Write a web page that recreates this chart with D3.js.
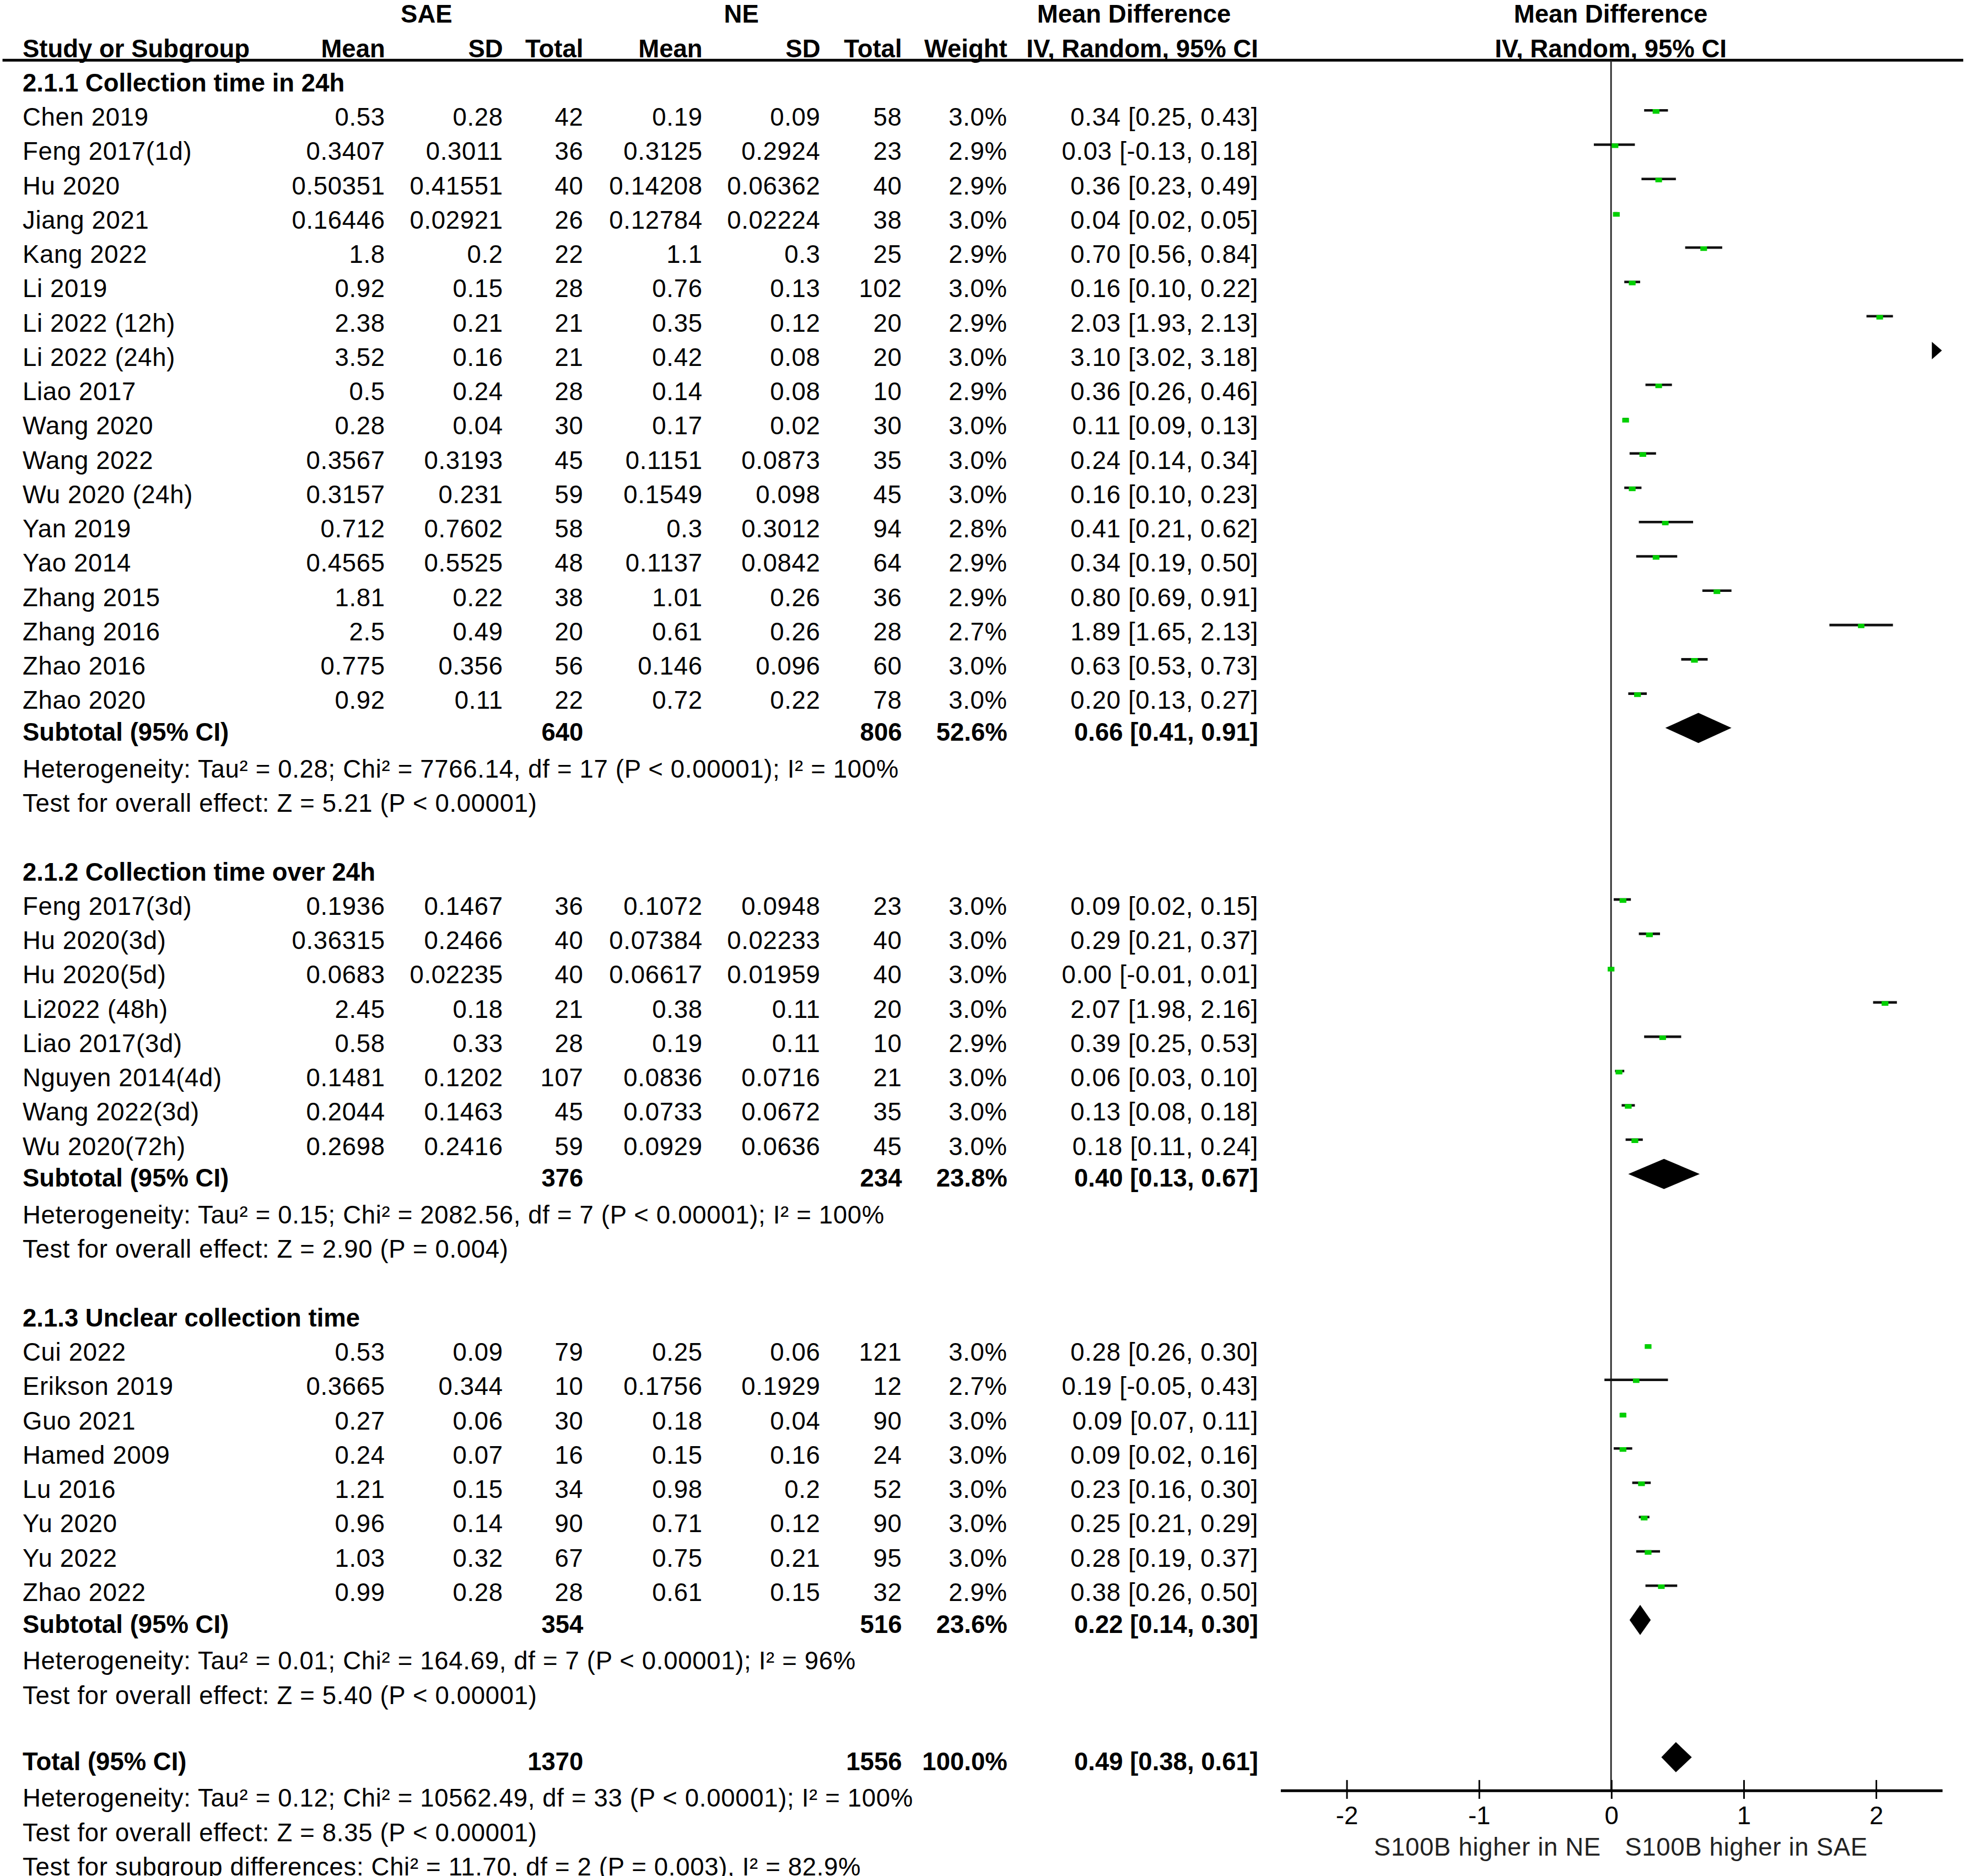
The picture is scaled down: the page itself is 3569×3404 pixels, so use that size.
<!DOCTYPE html>
<html lang="en">
<head>
<meta charset="utf-8">
<title>S100B forest plot</title>
<script src="https://cdn.jsdelivr.net/npm/d3@7/dist/d3.min.js"></script>
<style>
  body { margin: 0; background: #fff; }
  svg { display: block; font-family: "Liberation Sans", Arial, sans-serif; }
  .b { font-weight: bold; }
  .r { letter-spacing: 0.3px; }
</style>
</head>
<body>
<script>
// study rows, in drawing order
var studies = ["Chen 2019", "Feng 2017(1d)", "Hu 2020", "Jiang 2021", "Kang 2022", "Li 2019",
  "Li 2022 (12h)", "Li 2022 (24h)", "Liao 2017", "Wang 2020", "Wang 2022", "Wu 2020 (24h)",
  "Yan 2019", "Yao 2014", "Zhang 2015", "Zhang 2016", "Zhao 2016", "Zhao 2020",
  "Feng 2017(3d)", "Hu 2020(3d)", "Hu 2020(5d)", "Li2022 (48h)", "Liao 2017(3d)",
  "Nguyen 2014(4d)", "Wang 2022(3d)", "Wu 2020(72h)",
  "Cui 2022", "Erikson 2019", "Guo 2021", "Hamed 2009", "Lu 2016", "Yu 2020", "Yu 2022", "Zhao 2022"];
var group = [0,0,0,0,0,0,0,0,0,0,0,0,0,0,0,0,0,0, 1,1,1,1,1,1,1,1, 2,2,2,2,2,2,2,2];

var saeMean = ["0.53","0.3407","0.50351","0.16446","1.8","0.92","2.38","3.52","0.5","0.28","0.3567","0.3157",
  "0.712","0.4565","1.81","2.5","0.775","0.92",
  "0.1936","0.36315","0.0683","2.45","0.58","0.1481","0.2044","0.2698",
  "0.53","0.3665","0.27","0.24","1.21","0.96","1.03","0.99"];
var saeSD = ["0.28","0.3011","0.41551","0.02921","0.2","0.15","0.21","0.16","0.24","0.04","0.3193","0.231",
  "0.7602","0.5525","0.22","0.49","0.356","0.11",
  "0.1467","0.2466","0.02235","0.18","0.33","0.1202","0.1463","0.2416",
  "0.09","0.344","0.06","0.07","0.15","0.14","0.32","0.28"];
var saeN = [42,36,40,26,22,28,21,21,28,30,45,59,58,48,38,20,56,22, 36,40,40,21,28,107,45,59, 79,10,30,16,34,90,67,28];
var neMean = ["0.19","0.3125","0.14208","0.12784","1.1","0.76","0.35","0.42","0.14","0.17","0.1151","0.1549",
  "0.3","0.1137","1.01","0.61","0.146","0.72",
  "0.1072","0.07384","0.06617","0.38","0.19","0.0836","0.0733","0.0929",
  "0.25","0.1756","0.18","0.15","0.98","0.71","0.75","0.61"];
var neSD = ["0.09","0.2924","0.06362","0.02224","0.3","0.13","0.12","0.08","0.08","0.02","0.0873","0.098",
  "0.3012","0.0842","0.26","0.26","0.096","0.22",
  "0.0948","0.02233","0.01959","0.11","0.11","0.0716","0.0672","0.0636",
  "0.06","0.1929","0.04","0.16","0.2","0.12","0.21","0.15"];
var neN = [58,23,40,38,25,102,20,20,10,30,35,45,94,64,36,28,60,78, 23,40,40,20,10,21,35,45, 121,12,90,24,52,90,95,32];
var weight = [3.0,2.9,2.9,3.0,2.9,3.0,2.9,3.0,2.9,3.0,3.0,3.0,2.8,2.9,2.9,2.7,3.0,3.0,
  3.0,3.0,3.0,3.0,2.9,3.0,3.0,3.0, 3.0,2.7,3.0,3.0,3.0,3.0,3.0,2.9];
var md = [0.34,0.03,0.36,0.04,0.70,0.16,2.03,3.10,0.36,0.11,0.24,0.16,0.41,0.34,0.80,1.89,0.63,0.20,
  0.09,0.29,0.00,2.07,0.39,0.06,0.13,0.18, 0.28,0.19,0.09,0.09,0.23,0.25,0.28,0.38];
var ciLo = [0.25,-0.13,0.23,0.02,0.56,0.10,1.93,3.02,0.26,0.09,0.14,0.10,0.21,0.19,0.69,1.65,0.53,0.13,
  0.02,0.21,-0.01,1.98,0.25,0.03,0.08,0.11, 0.26,-0.05,0.07,0.02,0.16,0.21,0.19,0.26];
var ciHi = [0.43,0.18,0.49,0.05,0.84,0.22,2.13,3.18,0.46,0.13,0.34,0.23,0.62,0.50,0.91,2.13,0.73,0.27,
  0.15,0.37,0.01,2.16,0.53,0.10,0.18,0.24, 0.30,0.43,0.11,0.16,0.30,0.29,0.37,0.50];

// subgroups
var subTitles = ["2.1.1 Collection time in 24h", "2.1.2 Collection time over 24h", "2.1.3 Unclear collection time"];
var subSaeN = [640, 376, 354];
var subNeN = [806, 234, 516];
var subWeight = [52.6, 23.8, 23.6];
var subMd = [0.66, 0.40, 0.22];
var subLo = [0.41, 0.13, 0.14];
var subHi = [0.91, 0.67, 0.30];
var subHet = [
  "Heterogeneity: Tau\u00b2 = 0.28; Chi\u00b2 = 7766.14, df = 17 (P < 0.00001); I\u00b2 = 100%",
  "Heterogeneity: Tau\u00b2 = 0.15; Chi\u00b2 = 2082.56, df = 7 (P < 0.00001); I\u00b2 = 100%",
  "Heterogeneity: Tau\u00b2 = 0.01; Chi\u00b2 = 164.69, df = 7 (P < 0.00001); I\u00b2 = 96%"];
var subTest = [
  "Test for overall effect: Z = 5.21 (P < 0.00001)",
  "Test for overall effect: Z = 2.90 (P = 0.004)",
  "Test for overall effect: Z = 5.40 (P < 0.00001)"];

// overall
var totalSaeN = 1370, totalNeN = 1556, totalWeight = 100.0;
var totalMd = 0.49, totalLo = 0.38, totalHi = 0.61;
var totalNotes = [
  "Heterogeneity: Tau\u00b2 = 0.12; Chi\u00b2 = 10562.49, df = 33 (P < 0.00001); I\u00b2 = 100%",
  "Test for overall effect: Z = 8.35 (P < 0.00001)",
  "Test for subgroup differences: Chi\u00b2 = 11.70, df = 2 (P = 0.003), I\u00b2 = 82.9%"];

var axisTicks = [-2, -1, 0, 1, 2];
var favoursLeft = "S100B higher in NE", favoursRight = "S100B higher in SAE";

// layout (drawn in a 1568 wide box, scaled up to the page)
var W = 1568, H = 1495.5;
var fs = 20;
var col = { name: 18, m1: 307, sd1: 401, n1: 465, m2: 560, sd2: 654, n2: 719, wt: 803, ci: 1003 };
var rowY = function(i) { return 93 + 27.35 * i; };
var axisY = 1427, lineTop = 48;

var x = d3.scaleLinear().domain([-2.5, 2.5]).range([1020.5, 1548]);

var svg = d3.select("body").append("svg")
  .attr("width", 3569).attr("height", 3404)
  .attr("viewBox", "0 0 " + W + " " + H);

function txt(xp, yp, s, anchor, bold, fill) {
  return svg.append("text")
    .attr("x", xp).attr("y", yp).attr("dy", "0.36em")
    .attr("font-size", fs)
    .attr("text-anchor", anchor || "start")
    .attr("class", bold ? "b" : "r")
    .attr("fill", fill || "#000")
    .text(s);
}
function ciText(m, l, h) {
  return m.toFixed(2) + " [" + l.toFixed(2) + ", " + h.toFixed(2) + "]";
}
function diamond(yc, m, l, h) {
  var hh = 12;
  svg.append("path")
    .attr("d", "M" + x(l) + "," + yc + "L" + x(m) + "," + (yc - hh) + "L" + x(h) + "," + yc + "L" + x(m) + "," + (yc + hh) + "Z")
    .attr("fill", "#000");
}

// headers
txt(340, rowY(-3), "SAE", "middle", true);
txt(591, rowY(-3), "NE", "middle", true);
txt(904, rowY(-3), "Mean Difference", "middle", true);
txt(1284, rowY(-3), "Mean Difference", "middle", true);
txt(col.name, rowY(-2), "Study or Subgroup", "start", true);
[["m1","Mean"],["sd1","SD"],["n1","Total"],["m2","Mean"],["sd2","SD"],["n2","Total"],["wt","Weight"],["ci","IV, Random, 95% CI"]]
  .forEach(function(c) { txt(col[c[0]], rowY(-2), c[1], "end", true); });
txt(1284, rowY(-2), "IV, Random, 95% CI", "middle", true);

svg.append("line").attr("x1", 2).attr("x2", 1565).attr("y1", lineTop).attr("y2", lineTop)
  .attr("stroke", "#000").attr("stroke-width", 2.2);

// zero line
svg.append("line").attr("x1", x(0)).attr("x2", x(0)).attr("y1", lineTop).attr("y2", axisY)
  .attr("stroke", "#222").attr("stroke-width", 1.2);

var mk = d3.scaleSqrt().domain([0, 3.0]).range([0, 5.4]);

// body rows
var row = -1;
subTitles.forEach(function(title, g) {
  txt(col.name, rowY(row), title, "start", true);
  row++;
  studies.forEach(function(s, k) {
    if (group[k] !== g) return;
    var y = rowY(row);
    txt(col.name, y, s);
    txt(col.m1, y, saeMean[k], "end");
    txt(col.sd1, y, saeSD[k], "end");
    txt(col.n1, y, saeN[k], "end");
    txt(col.m2, y, neMean[k], "end");
    txt(col.sd2, y, neSD[k], "end");
    txt(col.n2, y, neN[k], "end");
    txt(col.wt, y, weight[k].toFixed(1) + "%", "end");
    txt(col.ci, y, ciText(md[k], ciLo[k], ciHi[k]), "end");

    var yl = y - 5;
    var dom = x.domain();
    if (ciLo[k] > dom[1]) {
      // off scale: arrow at the right end
      var xe = x(dom[1]);
      svg.append("path").attr("d", "M" + (xe - 8) + "," + (yl - 7) + "L" + xe + "," + yl + "L" + (xe - 8) + "," + (yl + 7) + "Z")
        .attr("fill", "#000");
    } else {
      svg.append("line")
        .attr("x1", x(Math.max(ciLo[k], dom[0]))).attr("x2", x(Math.min(ciHi[k], dom[1])))
        .attr("y1", yl).attr("y2", yl)
        .attr("stroke", "#111").attr("stroke-width", 2);
      var s2 = mk(weight[k]);
      svg.append("rect")
        .attr("x", x(md[k]) - s2 / 2).attr("y", yl - 1)
        .attr("width", s2).attr("height", s2 * 0.68)
        .attr("fill", "#00d000");
    }
    row++;
  });
  var ys = rowY(row) - 2;
  txt(col.name, ys, "Subtotal (95% CI)", "start", true);
  txt(col.n1, ys, subSaeN[g], "end", true);
  txt(col.n2, ys, subNeN[g], "end", true);
  txt(col.wt, ys, subWeight[g].toFixed(1) + "%", "end", true);
  txt(col.ci, ys, ciText(subMd[g], subLo[g], subHi[g]), "end", true);
  diamond(ys - 3, subMd[g], subLo[g], subHi[g]);
  row++;
  txt(col.name, rowY(row), subHet[g]); row++;
  txt(col.name, rowY(row), subTest[g]); row++;
  row += 1; // blank line
});

// overall
var yt = rowY(row) - 2;
txt(col.name, yt, "Total (95% CI)", "start", true);
txt(col.n1, yt, totalSaeN, "end", true);
txt(col.n2, yt, totalNeN, "end", true);
txt(col.wt, yt, totalWeight.toFixed(1) + "%", "end", true);
txt(col.ci, yt, ciText(totalMd, totalLo, totalHi), "end", true);
diamond(yt - 3, totalMd, totalLo, totalHi);
row++;
totalNotes.forEach(function(n) { txt(col.name, rowY(row), n); row++; });

// axis
var ax = svg.append("g").attr("transform", "translate(0," + axisY + ")")
  .call(d3.axisBottom(x).tickValues(axisTicks).tickSize(7).tickSizeOuter(0)
    .tickFormat(function(d) { return String(d); }));
ax.select(".domain").attr("stroke", "#000").attr("stroke-width", 2.2);
ax.selectAll(".tick line").attr("y1", -8).attr("stroke", "#000").attr("stroke-width", 1.3);
ax.selectAll(".tick text").attr("y", 20).attr("dy", "0.36em")
  .attr("font-size", fs).attr("font-family", "Liberation Sans, Arial, sans-serif").attr("fill", "#000");

txt(x(0) - 8, 1472, favoursLeft, "end", false, "#222");
txt(x(0) + 11, 1472, favoursRight, "start", false, "#222");
</script>
</body>
</html>
